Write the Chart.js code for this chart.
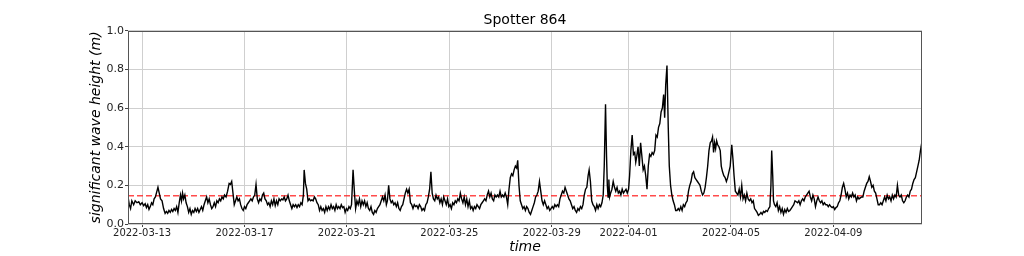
<!DOCTYPE html>
<html>
<head>
<meta charset="utf-8">
<script src="https://cdn.jsdelivr.net/npm/chart.js@4/dist/chart.umd.min.js"></script>
<style>
  html, body { margin: 0; padding: 0; background: #fff; }
  #wrap { width: 1024px; height: 256px; }
</style>
</head>
<body>
<div id="wrap"><canvas id="c" width="1024" height="256"></canvas></div>
<script>
// time axis: days since 2022-03-13 00:00
const times = [
-0.55,-0.5,-0.45,-0.4,-0.33,-0.27,-0.2,-0.13,-0.07,0.0,0.06,0.12,0.17,0.22,0.27,0.32,0.37,0.42,0.47,0.52,0.58,0.62,0.67,0.72,0.78,0.84,0.9,0.95,1.0,1.05,1.1,1.15,1.2,1.25,1.3,1.35,1.4,1.45,1.5,1.54,1.58,1.62,1.67,1.72,1.77,1.82,1.87,1.92,1.97,2.02,2.07,2.12,2.17,2.22,2.27,2.32,2.37,2.42,2.47,2.52,2.57,2.62,2.67,2.72,2.77,2.82,2.87,2.92,2.97,3.02,3.07,3.12,3.17,3.22,3.28,3.34,3.4,3.45,3.5,3.55,3.6,3.65,3.7,3.75,3.8,3.85,3.9,3.95,4.0,4.05,4.1,4.15,4.2,4.25,4.3,4.35,4.4,4.45,4.5,4.55,4.6,4.65,4.7,4.75,4.8,4.85,4.9,4.95,5.0,5.05,5.1,5.15,5.2,5.25,5.3,5.35,5.4,5.45,5.5,5.55,5.6,5.65,5.7,5.75,5.8,5.85,5.9,5.95,6.0,6.05,6.1,6.15,6.2,6.25,6.3,6.33,6.38,6.43,6.48,6.53,6.58,6.63,6.68,6.73,6.78,6.83,6.88,6.93,6.98,
7.03,7.08,7.13,7.18,7.23,7.28,7.33,7.38,7.43,7.48,7.53,7.58,7.63,7.68,7.73,7.78,7.83,7.88,7.93,7.98,8.03,8.08,8.13,8.18,8.24,8.3,8.34,8.39,8.44,8.49,8.54,8.59,8.64,8.69,8.74,8.79,8.84,8.89,8.94,8.99,9.04,9.09,9.14,9.19,9.24,9.29,9.34,9.39,9.44,9.49,9.54,9.58,9.63,9.68,9.73,9.78,9.83,9.88,9.93,9.98,10.03,10.08,10.13,10.18,10.23,10.28,10.33,10.38,10.43,10.48,10.53,10.58,10.63,10.68,10.73,10.78,10.83,10.88,10.93,10.98,11.03,11.08,11.13,11.18,11.23,11.28,11.33,11.38,11.43,11.48,11.53,11.58,11.63,11.68,11.73,11.78,11.83,11.88,11.93,11.98,12.03,12.08,12.13,12.18,12.23,12.28,12.33,12.38,12.43,12.48,12.53,12.58,12.63,12.68,12.73,12.78,12.83,12.88,12.93,12.98,13.03,13.08,13.13,13.18,13.23,13.28,13.33,13.38,13.43,13.48,13.53,13.58,13.63,13.68,13.73,13.78,13.83,13.88,13.93,13.98,14.03,14.08,14.13,14.18,14.23,14.28,14.33,14.38,14.43,14.48,14.53,14.58,14.63,14.67,14.72,14.77,14.82,14.87,
14.92,14.97,15.02,15.07,15.12,15.17,15.22,15.27,15.32,15.37,15.42,15.47,15.52,15.57,15.62,15.67,15.72,15.77,15.82,15.87,15.92,15.97,16.02,16.07,16.12,16.17,16.22,16.27,16.32,16.37,16.42,16.47,16.52,16.57,16.62,16.67,16.72,16.77,16.82,16.87,16.92,16.97,17.02,17.07,17.12,17.17,17.22,17.27,17.32,17.37,17.42,17.46,17.51,17.56,17.61,17.66,17.71,17.76,17.81,17.86,17.91,17.96,18.01,18.05,18.1,18.14,18.17,18.2,18.23,18.26,18.3,18.35,18.4,18.45,18.5,18.55,18.6,18.65,18.7,18.75,18.8,18.85,18.9,18.95,19.0,19.04,19.09,19.14,19.19,19.24,19.28,19.32,19.37,19.42,19.47,19.52,19.57,19.62,19.67,19.72,19.77,19.82,19.87,19.92,19.97,20.02,20.07,20.12,20.17,20.22,20.27,20.32,20.37,20.41,20.45,20.5,20.55,20.59,20.64,20.69,20.74,20.79,20.84,20.89,20.94,20.99,21.04,21.09,21.14,21.19,21.24,21.29,21.34,21.39,21.44,21.49,21.54,21.59,21.64,21.69,21.74,21.79,21.84,21.89,21.94,21.99,22.04,22.09,22.14,22.19,22.24,22.28,22.32,22.36,22.4,22.44,22.48,22.53,22.58,
22.62,22.67,22.72,22.77,22.82,22.87,22.92,22.97,23.03,23.08,23.12,23.17,23.22,23.27,23.32,23.37,23.42,23.47,23.52,23.57,23.62,23.67,23.72,23.77,23.82,23.87,23.92,23.97,24.02,24.07,24.12,24.17,24.22,24.27,24.32,24.37,24.42,24.47,24.52,24.56,24.59,24.63,24.66,24.7,24.75,24.8,24.85,24.9,24.95,25.0,25.05,25.1,25.15,25.2,25.25,25.3,25.35,25.4,25.45,25.5,25.55,25.6,25.65,25.7,25.75,25.8,25.85,25.9,25.95,26.0,26.05,26.1,26.15,26.2,26.25,26.3,26.35,26.4,26.45,26.5,26.55,26.6,26.65,26.7,26.75,26.8,26.85,26.9,26.95,27.0,27.05,27.1,27.15,27.2,27.25,27.3,27.35,27.4,27.45,27.5,27.55,27.6,27.65,27.7,27.75,27.8,27.85,27.9,27.95,28.0,28.05,28.1,28.15,28.2,28.25,28.3,28.35,28.4,28.45,28.5,28.55,28.6,28.65,28.7,28.75,28.8,28.85,28.9,28.95,29.0,29.05,29.1,29.15,29.2,29.25,29.3,29.35,29.4,29.45,29.5,29.55,29.6,29.65,29.7,29.75,29.8,29.85,29.9,29.95,30.0,30.05,30.1,30.15,30.2,30.25,30.3,30.35,30.4,30.45
];

// significant wave height (m)
const heights = [
0.14,0.10,0.08,0.12,0.10,0.12,0.11,0.115,0.10,0.11,0.095,0.105,0.085,0.10,0.075,0.09,0.11,0.10,0.13,0.14,0.17,0.19,0.16,0.13,0.12,0.08,0.055,0.065,0.055,0.07,0.06,0.075,0.065,0.08,0.07,0.09,0.06,0.11,0.15,0.12,0.16,0.13,0.15,0.11,0.09,0.06,0.08,0.05,0.07,0.06,0.08,0.065,0.08,0.06,0.075,0.09,0.07,0.10,0.12,0.14,0.11,0.13,0.10,0.08,0.09,0.11,0.09,0.12,0.11,0.13,0.12,0.14,0.13,0.15,0.14,0.17,0.21,0.205,0.22,0.16,0.10,0.12,0.14,0.12,0.13,0.10,0.08,0.07,0.09,0.08,0.10,0.11,0.12,0.13,0.12,0.14,0.15,0.205,0.13,0.11,0.13,0.12,0.15,0.16,0.13,0.12,0.10,0.11,0.09,0.12,0.10,0.13,0.095,0.12,0.10,0.13,0.12,0.13,0.125,0.14,0.12,0.13,0.15,0.12,0.10,0.08,0.10,0.09,0.10,0.085,0.10,0.09,0.11,0.10,0.15,0.28,0.21,0.18,0.12,0.13,0.12,0.125,0.12,0.14,0.13,0.11,0.10,0.07,0.09,
0.07,0.08,0.06,0.09,0.07,0.09,0.075,0.10,0.08,0.09,0.07,0.10,0.08,0.09,0.08,0.10,0.085,0.09,0.06,0.08,0.07,0.09,0.08,0.10,0.28,0.15,0.08,0.12,0.10,0.13,0.09,0.12,0.10,0.12,0.09,0.11,0.08,0.07,0.09,0.06,0.05,0.07,0.06,0.08,0.09,0.10,0.12,0.14,0.12,0.15,0.10,0.12,0.20,0.13,0.11,0.12,0.10,0.11,0.09,0.11,0.08,0.07,0.09,0.10,0.13,0.16,0.18,0.16,0.18,0.11,0.10,0.08,0.10,0.09,0.095,0.08,0.10,0.09,0.07,0.08,0.07,0.10,0.11,0.14,0.18,0.27,0.16,0.13,0.12,0.15,0.13,0.14,0.11,0.13,0.10,0.14,0.12,0.10,0.13,0.09,0.10,0.08,0.11,0.10,0.12,0.11,0.13,0.12,0.16,0.13,0.11,0.14,0.10,0.13,0.09,0.12,0.08,0.09,0.07,0.09,0.08,0.10,0.09,0.08,0.10,0.11,0.12,0.13,0.12,0.15,0.17,0.14,0.16,0.13,0.12,0.15,0.14,0.15,0.14,0.17,0.14,0.15,0.14,0.16,0.14,0.10,0.18,0.24,0.26,0.25,0.28,0.30,0.29,0.33,0.20,0.12,0.10,0.08,
0.09,0.07,0.09,0.08,0.06,0.05,0.07,0.09,0.11,0.14,0.15,0.17,0.22,0.17,0.12,0.10,0.12,0.10,0.08,0.09,0.07,0.08,0.09,0.08,0.10,0.09,0.10,0.09,0.13,0.15,0.17,0.16,0.19,0.17,0.15,0.13,0.12,0.10,0.08,0.09,0.07,0.06,0.08,0.07,0.09,0.08,0.10,0.15,0.18,0.19,0.25,0.28,0.22,0.12,0.10,0.09,0.07,0.10,0.08,0.10,0.09,0.11,0.15,0.30,0.62,0.35,0.20,0.14,0.23,0.14,0.16,0.18,0.22,0.19,0.17,0.19,0.16,0.17,0.15,0.18,0.16,0.17,0.18,0.16,0.18,0.25,0.38,0.46,0.36,0.37,0.32,0.35,0.40,0.30,0.42,0.35,0.28,0.30,0.25,0.18,0.30,0.36,0.35,0.37,0.36,0.38,0.46,0.45,0.50,0.52,0.58,0.60,0.67,0.55,0.72,0.82,0.50,0.30,0.20,0.15,0.12,0.10,0.07,0.07,0.08,0.07,0.09,0.07,0.10,0.09,0.11,0.12,0.17,0.20,0.22,0.26,0.27,0.24,0.23,0.22,0.21,0.20,0.17,0.15,0.16,0.19,0.24,0.30,0.38,0.42,0.43,0.45,0.37,0.42,0.39,0.43,0.41,0.40,0.38,
0.30,0.27,0.25,0.24,0.22,0.24,0.27,0.30,0.41,0.33,0.25,0.17,0.16,0.15,0.18,0.14,0.20,0.13,0.15,0.12,0.16,0.13,0.12,0.13,0.11,0.12,0.08,0.07,0.06,0.045,0.05,0.06,0.05,0.065,0.06,0.07,0.065,0.08,0.09,0.20,0.38,0.25,0.12,0.10,0.09,0.11,0.07,0.09,0.06,0.08,0.05,0.075,0.06,0.08,0.065,0.07,0.08,0.09,0.10,0.12,0.115,0.11,0.12,0.10,0.12,0.13,0.12,0.14,0.15,0.16,0.17,0.14,0.12,0.15,0.13,0.09,0.12,0.14,0.12,0.11,0.12,0.10,0.11,0.10,0.10,0.09,0.10,0.09,0.085,0.09,0.075,0.085,0.09,0.11,0.12,0.15,0.19,0.21,0.18,0.14,0.16,0.13,0.15,0.14,0.16,0.14,0.15,0.12,0.14,0.13,0.135,0.14,0.14,0.17,0.19,0.21,0.22,0.245,0.22,0.19,0.20,0.17,0.16,0.13,0.10,0.10,0.11,0.10,0.12,0.14,0.12,0.15,0.13,0.14,0.12,0.15,0.13,0.15,0.14,0.20,0.15,0.14,0.15,0.12,0.11,0.12,0.14,0.15,0.14,0.17,0.18,0.21,0.23,0.24,0.27,0.30,0.33,0.38,0.42
];

// mean significant wave height (red dashed reference line)
const meanHeight = [0.146];

// x tick positions (days since 2022-03-13) and their labels
const tickDays = [0, 4, 8, 12, 16, 19, 23, 27];
const tickLabels = ['2022-03-13','2022-03-17','2022-03-21','2022-03-25','2022-03-29','2022-04-01','2022-04-05','2022-04-09'];

const xMin = -0.55, xMax = 30.46;

const seriesPoints = times.map((t, i) => ({ x: t, y: heights[i] }));
const meanPoints = [{ x: xMin, y: meanHeight[0] }, { x: xMax, y: meanHeight[0] }];

const frame = {
  id: 'frame',
  afterDatasetsDraw(chart) {
    const { ctx, chartArea: a } = chart;
    ctx.save();
    ctx.strokeStyle = '#555';
    ctx.lineWidth = 1;
    ctx.strokeRect(Math.round(a.left) + 0.5, Math.round(a.top) + 0.5,
                   Math.round(a.right - a.left) - 1, Math.round(a.bottom - a.top) - 1);
    ctx.restore();
  }
};

const font = 'DejaVu Sans';

new Chart(document.getElementById('c'), {
  type: 'line',
  data: {
    datasets: [
      {
        data: seriesPoints,
        borderColor: '#000',
        borderWidth: 1.4,
        pointRadius: 0,
        tension: 0,
        fill: false
      },
      {
        data: meanPoints,
        borderColor: 'rgba(255,30,30,0.8)',
        borderWidth: 1.5,
        borderDash: [6, 3],
        pointRadius: 0,
        fill: false
      }
    ]
  },
  plugins: [frame],
  options: {
    responsive: false,
    animation: false,
    events: [],
    layout: { padding: { left: 0, right: 102, top: 0, bottom: 0 } },
    plugins: {
      legend: { display: false },
      tooltip: { enabled: false },
      title: {
        display: true,
        fullSize: false,
        text: 'Spotter 864',
        color: '#000',
        font: { family: font, size: 14, weight: 'normal' },
        padding: { top: 12, bottom: 2 }
      }
    },
    scales: {
      x: {
        type: 'linear',
        min: xMin,
        max: xMax,
        afterBuildTicks(scale) { scale.ticks = tickDays.map(v => ({ value: v })); },
        afterFit(scale) { scale.height = 32; },
        ticks: {
          autoSkip: false,
          maxRotation: 0,
          padding: 0,
          color: '#222',
          font: { family: font, size: 10 },
          callback(v) { const i = tickDays.indexOf(v); return i >= 0 ? tickLabels[i] : ''; }
        },
        grid: { color: '#cfcfcf', lineWidth: 1, tickLength: 3, tickColor: '#444' },
        border: { display: false },
        title: {
          display: true,
          text: 'time',
          color: '#000',
          font: { family: font, size: 14, style: 'italic' },
          padding: { top: 0, bottom: 0 }
        }
      },
      y: {
        min: 0,
        max: 1,
        afterFit(scale) { scale.width = 128; },
        ticks: {
          stepSize: 0.2,
          padding: 1,
          color: '#222',
          font: { family: font, size: 11 },
          callback(v) { return Number(v).toFixed(1); }
        },
        grid: { color: '#cfcfcf', lineWidth: 1, tickLength: 3, tickColor: '#444' },
        border: { display: false },
        title: {
          display: true,
          text: 'significant wave height (m)',
          color: '#000',
          font: { family: font, size: 14, style: 'italic' },
          padding: { top: 88, bottom: 0 }
        }
      }
    }
  }
});
</script>
</body>
</html>
